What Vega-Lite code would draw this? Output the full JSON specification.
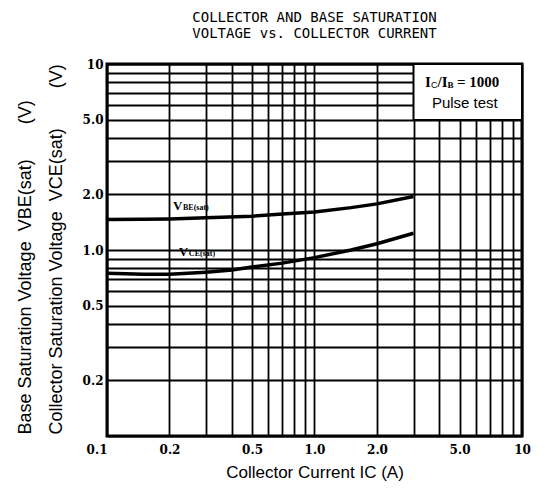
{
  "$schema": "https://vega.github.io/schema/vega-lite/v6.json",
  "width": 415,
  "height": 372,
  "autosize": {"type": "none"},
  "padding": {"left": 107, "top": 64, "right": 23, "bottom": 54},
  "background": "white",
  "config": {
    "view": {"stroke": "black", "strokeWidth": 3},
    "axis": {"domain": false, "ticks": false, "grid": true, "gridColor": "black", "gridOpacity": 1, "gridWidth": 1.8}
  },
  "title": {
    "text": ["COLLECTOR AND BASE SATURATION", "VOLTAGE vs. COLLECTOR CURRENT"],
    "font": "DejaVu Sans Mono",
    "fontSize": 14,
    "fontWeight": "normal",
    "color": "black",
    "anchor": "middle",
    "baseline": "bottom",
    "lineHeight": 16,
    "offset": 3
  },
  "datasets": {
    "curves": [
      {"series": "VBE(sat)", "ic": 0.1, "v": 1.46},
      {"series": "VBE(sat)", "ic": 0.15, "v": 1.465},
      {"series": "VBE(sat)", "ic": 0.2, "v": 1.47},
      {"series": "VBE(sat)", "ic": 0.3, "v": 1.49},
      {"series": "VBE(sat)", "ic": 0.5, "v": 1.52},
      {"series": "VBE(sat)", "ic": 0.7, "v": 1.56},
      {"series": "VBE(sat)", "ic": 1.0, "v": 1.6},
      {"series": "VBE(sat)", "ic": 1.5, "v": 1.69},
      {"series": "VBE(sat)", "ic": 2.0, "v": 1.77},
      {"series": "VBE(sat)", "ic": 3.0, "v": 1.94},
      {"series": "VCE(sat)", "ic": 0.1, "v": 0.75},
      {"series": "VCE(sat)", "ic": 0.15, "v": 0.74},
      {"series": "VCE(sat)", "ic": 0.2, "v": 0.74},
      {"series": "VCE(sat)", "ic": 0.3, "v": 0.76},
      {"series": "VCE(sat)", "ic": 0.4, "v": 0.78},
      {"series": "VCE(sat)", "ic": 0.5, "v": 0.81},
      {"series": "VCE(sat)", "ic": 0.7, "v": 0.85},
      {"series": "VCE(sat)", "ic": 1.0, "v": 0.91},
      {"series": "VCE(sat)", "ic": 1.5, "v": 1.0},
      {"series": "VCE(sat)", "ic": 2.0, "v": 1.08},
      {"series": "VCE(sat)", "ic": 3.0, "v": 1.23}
    ],
    "box": [{"x1": 3, "x2": 10, "y1": 5, "y2": 10}],
    "notes": [
      {"ic": 3.41, "v": 8.0, "label": "note"},
      {"ic": 3.68, "v": 6.17, "label": "pulse"},
      {"ic": 0.208, "v": 1.73, "label": "vbe"},
      {"ic": 0.222, "v": 0.975, "label": "vce"}
    ]
  },
  "layer": [
    {
      "data": {"name": "curves"},
      "mark": {"type": "line", "color": "black", "strokeWidth": 3.5, "clip": true},
      "encoding": {
        "x": {
          "field": "ic", "type": "quantitative",
          "scale": {"type": "log", "domain": [0.1, 10], "nice": false},
          "axis": {
            "values": [0.1,0.2,0.3,0.4,0.5,0.6,0.7,0.8,0.9,1,2,3,4,5,6,7,8,9,10],
            "labelExpr": "(datum.value==0.1||datum.value==0.2||datum.value==0.5||datum.value==1||datum.value==2||datum.value==5) ? format(datum.value,'.1f') : (datum.value==10 ? '10' : '')",
            "labelFont": "DejaVu Serif", "labelFontWeight": "bold", "labelFontSize": 12, "labelColor": "black",
            "labelPadding": 8,
            "labelAlign": {"condition": {"test": "datum.value == 0.1", "value": "right"}, "value": "center"},
            "labelFlush": false, "labelOverlap": false,
            "title": "Collector Current  IC  (A)",
            "titleFont": "Liberation Sans", "titleFontSize": 17, "titleFontWeight": "normal", "titleColor": "black",
            "titleBaseline": "middle", "titleY": 36
          }
        },
        "y": {
          "field": "v", "type": "quantitative",
          "scale": {"type": "log", "domain": [0.1, 10], "nice": false},
          "axis": {
            "values": [0.1,0.2,0.3,0.4,0.5,0.6,0.7,0.8,0.9,1,2,3,4,5,6,7,8,9,10],
            "labelExpr": "(datum.value==0.2||datum.value==0.5||datum.value==1||datum.value==2||datum.value==5) ? format(datum.value,'.1f') : (datum.value==10 ? '10' : '')",
            "labelFont": "DejaVu Serif", "labelFontWeight": "bold", "labelFontSize": 12, "labelColor": "black",
            "labelPadding": 4, "labelOverlap": false, "labelFlush": false,
            "title": ["Base Saturation Voltage\u00a0\u00a0VBE(sat)\u00a0\u00a0\u00a0\u00a0\u00a0\u00a0\u00a0(V)", "Collector Saturation Voltage\u00a0\u00a0VCE(sat)\u00a0\u00a0\u00a0\u00a0\u00a0\u00a0\u00a0\u00a0(V)"],
            "titleFont": "Liberation Sans", "titleFontSize": 18, "titleFontWeight": "normal", "titleColor": "black",
            "titleAngle": -90, "titleAlign": "left", "titleBaseline": "top",
            "titleLineHeight": 31, "titleX": -91, "titleY": 370
          }
        },
        "detail": {"field": "series"}
      }
    },
    {
      "data": {"name": "box"},
      "mark": {"type": "rect", "fill": "white", "stroke": "black", "strokeWidth": 2},
      "encoding": {
        "x": {"field": "x1", "type": "quantitative"},
        "x2": {"field": "x2"},
        "y": {"field": "y1", "type": "quantitative"},
        "y2": {"field": "y2"}
      }
    },
    {
      "data": {"name": "notes"},
      "transform": [{"filter": "datum.label == 'note'"}],
      "layer": [
        {"mark": {"type": "text", "text": "I", "align": "left", "baseline": "middle", "font": "Liberation Serif", "fontWeight": "bold", "fontSize": 15, "color": "black"}},
        {"mark": {"type": "text", "text": "C", "align": "left", "baseline": "middle", "dx": 6, "dy": 3, "font": "Liberation Sans", "fontSize": 9, "color": "black"}},
        {"mark": {"type": "text", "text": "/I", "align": "left", "baseline": "middle", "dx": 12.5, "font": "Liberation Serif", "fontWeight": "bold", "fontSize": 15, "color": "black"}},
        {"mark": {"type": "text", "text": "B", "align": "left", "baseline": "middle", "dx": 22.5, "dy": 3, "font": "Liberation Serif", "fontWeight": "bold", "fontSize": 9, "color": "black"}},
        {"mark": {"type": "text", "text": "= 1000", "align": "left", "baseline": "middle", "dx": 32, "font": "Liberation Serif", "fontWeight": "bold", "fontSize": 15, "color": "black"}}
      ],
      "encoding": {
        "x": {"field": "ic", "type": "quantitative"},
        "y": {"field": "v", "type": "quantitative"}
      }
    },
    {
      "data": {"name": "notes"},
      "transform": [{"filter": "datum.label == 'pulse'"}],
      "mark": {"type": "text", "text": "Pulse test", "align": "left", "baseline": "middle", "font": "Liberation Sans", "fontSize": 15, "color": "black"},
      "encoding": {
        "x": {"field": "ic", "type": "quantitative"},
        "y": {"field": "v", "type": "quantitative"}
      }
    },
    {
      "data": {"name": "notes"},
      "transform": [{"filter": "datum.label == 'vbe'"}],
      "layer": [
        {"mark": {"type": "text", "text": "V", "align": "left", "baseline": "middle", "font": "Liberation Serif", "fontWeight": "bold", "fontSize": 13, "color": "black"}},
        {"mark": {"type": "text", "text": "BE(sat)", "align": "left", "baseline": "middle", "dx": 10, "dy": 2, "font": "Liberation Serif", "fontWeight": "bold", "fontSize": 8, "color": "black"}}
      ],
      "encoding": {
        "x": {"field": "ic", "type": "quantitative"},
        "y": {"field": "v", "type": "quantitative"}
      }
    },
    {
      "data": {"name": "notes"},
      "transform": [{"filter": "datum.label == 'vce'"}],
      "layer": [
        {"mark": {"type": "text", "text": "V", "align": "left", "baseline": "middle", "font": "Liberation Serif", "fontWeight": "bold", "fontSize": 13, "color": "black"}},
        {"mark": {"type": "text", "text": "CE(sat)", "align": "left", "baseline": "middle", "dx": 10, "dy": 2, "font": "Liberation Serif", "fontWeight": "bold", "fontSize": 8, "color": "black"}}
      ],
      "encoding": {
        "x": {"field": "ic", "type": "quantitative"},
        "y": {"field": "v", "type": "quantitative"}
      }
    }
  ]
}
